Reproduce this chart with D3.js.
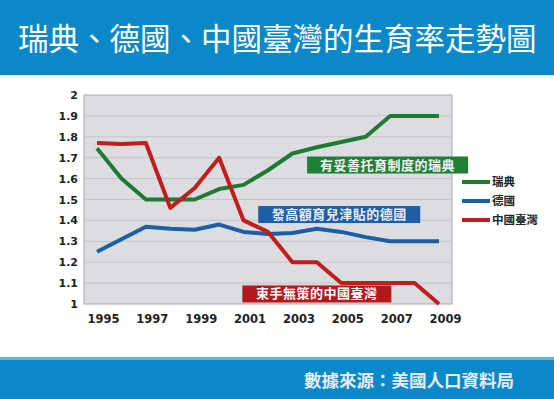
<!DOCTYPE html>
<html lang="zh-Hant">
<head>
  <meta charset="UTF-8" />
  <title>瑞典、德國、中國臺灣的生育率走勢圖</title>
  <script src="https://d3js.org/d3.v7.min.js"></script>
  <style>
    body { margin: 0; padding: 0; background: #fff; }
    svg { display: block; font-family: "Noto Sans CJK TC", "Noto Sans", sans-serif; }
    .tick text { font-family: "DejaVu Sans", sans-serif; font-weight: bold; fill: #222; }
  </style>
</head>
<body>
  <svg width="554" height="399"></svg>

  <script>
  // Data
  const years   = [1995,1996,1997,1998,1999,2000,2001,2002,2003,2004,2005,2006,2007,2008,2009];
  const sweden  = [1.745,1.60,1.50,1.50,1.50,1.55,1.57,1.64,1.72,1.75,1.775,1.80,1.90,1.90,1.90];
  const germany = [1.25,1.31,1.37,1.36,1.355,1.38,1.345,1.335,1.34,1.36,1.345,1.32,1.30,1.30,1.30];
  const taiwan  = [1.77,1.765,1.77,1.46,1.555,1.70,1.40,1.345,1.20,1.20,1.10,1.10,1.10,1.10,1.00];
  const yTicks  = [1,1.1,1.2,1.3,1.4,1.5,1.6,1.7,1.8,1.9,2];
  const xTicks  = [1995,1997,1999,2001,2003,2005,2007,2009];

  const series = [
    { name: '瑞典',     values: sweden,  color: '#1f7a32' },
    { name: '德國',     values: germany, color: '#1d5fa6' },
    { name: '中國臺灣', values: taiwan,  color: '#c01d1d' }
  ];
  const notes = [
    { text: '有妥善托育制度的瑞典', x0: 2003.6, y: 1.665, w: 161, fill: '#1f7f36', color: '#f2f2f2' },
    { text: '發高額育兒津貼的德國', x0: 2001.6, y: 1.428, w: 162, fill: '#1d5fa6', color: '#e8eef8' },
    { text: '束手無策的中國臺灣',   x0: 2000.95, y: 1.048, w: 149, fill: '#b3181c', color: '#ffffff' }
  ];

  const svg = d3.select('svg');
  const W = 554, H = 399;

  // banners
  svg.append('rect').attr('x', 0).attr('y', 0).attr('width', W).attr('height', 75).attr('fill', '#0a88c8');
  svg.append('text').attr('x', 18).attr('y', 50)
    .attr('fill', '#fff').attr('font-size', 30.5).attr('font-weight', 400)
    .text('瑞典、德國、中國臺灣的生育率走勢圖');
  svg.append('rect').attr('x', 0).attr('y', 359).attr('width', W).attr('height', 40).attr('fill', '#0a88c8');
  svg.append('rect').attr('x', 0).attr('y', 357).attr('width', W).attr('height', 3).attr('fill', '#5fb2dc');
  svg.append('text').attr('x', 514).attr('y', 387).attr('text-anchor', 'end')
    .attr('fill', '#e6edf4').attr('font-size', 17.5).attr('font-weight', 'bold')
    .text('數據來源：美國人口資料局');

  // plot area
  const pL = 84, pR = 452, pT = 95, pB = 304;
  const x = d3.scaleLinear().domain([1995, 2009]).range([97, 439]);
  const y = d3.scaleLinear().domain([1, 2]).range([pB, pT]);

  svg.append('rect').attr('x', pL).attr('y', pT).attr('width', pR - pL).attr('height', pB - pT)
    .attr('fill', '#dcdde1').attr('stroke', '#a9aaae').attr('stroke-width', 1);

  svg.append('g').selectAll('line').data(yTicks.slice(1, -1)).join('line')
    .attr('x1', pL).attr('x2', pR)
    .attr('y1', d => y(d)).attr('y2', d => y(d))
    .attr('stroke', '#c4c5c9').attr('stroke-width', 1);

  const yAxis = svg.append('g').attr('transform', `translate(${pL - 6},0)`)
    .call(d3.axisLeft(y).tickValues(yTicks).tickSize(0).tickPadding(0).tickFormat(d3.format('')));
  yAxis.select('.domain').remove();
  yAxis.selectAll('text').attr('font-size', 11);

  const xAxis = svg.append('g').attr('transform', `translate(6,${pB + 11})`)
    .call(d3.axisBottom(x).tickValues(xTicks).tickSize(0).tickPadding(0).tickFormat(d3.format('d')));
  xAxis.select('.domain').remove();
  xAxis.selectAll('text').attr('font-size', 11.5);

  // lines
  const line = d3.line().x((d, i) => x(years[i])).y(d => y(d));
  svg.append('g').selectAll('path').data(series).join('path')
    .attr('d', d => line(d.values))
    .attr('fill', 'none').attr('stroke', d => d.color)
    .attr('stroke-width', 4).attr('stroke-linejoin', 'round');

  // annotation boxes
  const ng = svg.append('g').selectAll('g').data(notes).join('g')
    .attr('transform', d => `translate(${x(d.x0)},${y(d.y)})`);
  ng.append('rect').attr('x', 0).attr('y', -8.5).attr('width', d => d.w).attr('height', 17)
    .attr('fill', d => d.fill);
  ng.append('text').attr('x', d => d.w / 2).attr('y', 4.5).attr('text-anchor', 'middle')
    .attr('fill', d => d.color).attr('font-size', 13).attr('font-weight', 'bold')
    .attr('letter-spacing', 0.5)
    .text(d => d.text);

  // legend
  const lg = svg.append('g').selectAll('g').data(series).join('g')
    .attr('transform', (d, i) => `translate(462,${182 + i * 19})`);
  lg.append('line').attr('x1', 0).attr('x2', 28).attr('stroke', d => d.color).attr('stroke-width', 4);
  lg.append('text').attr('x', 30).attr('y', 4).attr('font-size', 11.5).attr('font-weight', 'bold')
    .attr('fill', '#222').text(d => d.name);
  </script>
</body>
</html>
